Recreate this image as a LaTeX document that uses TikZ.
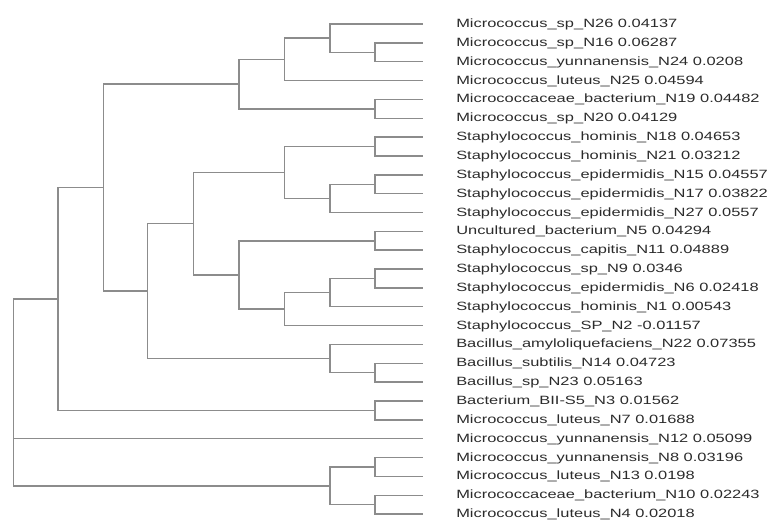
\documentclass[tikz,border=0pt]{standalone}
\usepackage{fontspec}
\setmainfont[FakeStretch=1.37]{Liberation Sans}
\definecolor{branch}{HTML}{8C8C8C}
\definecolor{labelc}{HTML}{2B2B2B}
\begin{document}
\begin{tikzpicture}[x=0.75pt,y=-0.75pt,
  edge/.style={draw=branch,line width=1.1pt,line cap=rect},
  leaflabel/.style={anchor=mid west,inner sep=0pt,text=labelc,font=\fontsize{9pt}{10pt}\selectfont}]
\useasboundingbox (0,0) rectangle (769,519);
% leaf tips and labels
\foreach \i/\t in {0/Micrococcus\_sp\_N26 0.04137,
 1/Micrococcus\_sp\_N16 0.06287,
 2/Micrococcus\_yunnanensis\_N24 0.0208,
 3/Micrococcus\_luteus\_N25 0.04594,
 4/Micrococcaceae\_bacterium\_N19 0.04482,
 5/Micrococcus\_sp\_N20 0.04129,
 6/Staphylococcus\_hominis\_N18 0.04653,
 7/Staphylococcus\_hominis\_N21 0.03212,
 8/Staphylococcus\_epidermidis\_N15 0.04557,
 9/Staphylococcus\_epidermidis\_N17 0.03822,
 10/Staphylococcus\_epidermidis\_N27 0.0557,
 11/Uncultured\_bacterium\_N5 0.04294,
 12/Staphylococcus\_capitis\_N11 0.04889,
 13/Staphylococcus\_sp\_N9 0.0346,
 14/Staphylococcus\_epidermidis\_N6 0.02418,
 15/Staphylococcus\_hominis\_N1 0.00543,
 16/Staphylococcus\_SP\_N2 -0.01157,
 17/Bacillus\_amyloliquefaciens\_N22 0.07355,
 18/Bacillus\_subtilis\_N14 0.04723,
 19/Bacillus\_sp\_N23 0.05163,
 20/Bacterium\_BII-S5\_N3 0.01562,
 21/Micrococcus\_luteus\_N7 0.01688,
 22/Micrococcus\_yunnanensis\_N12 0.05099,
 23/Micrococcus\_yunnanensis\_N8 0.03196,
 24/Micrococcus\_luteus\_N13 0.0198,
 25/Micrococcaceae\_bacterium\_N10 0.02243,
 26/Micrococcus\_luteus\_N4 0.02018}{
  \coordinate (L\i) at (422,{24+\i*18.85});
  \node[leaflabel] (T\i) at (456,{24+\i*18.85}) {\t};
}
% internal nodes
\coordinate (a) at (375,52.28);
\coordinate (b) at (330,38.14);
\coordinate (c) at (284.5,59.34);
\coordinate (d) at (375,108.83);
\coordinate (e) at (239,84.08);
\coordinate (l) at (375,146.53);
\coordinate (n) at (375,184.23);
\coordinate (m) at (330,198.36);
\coordinate (j) at (284.5,172.44);
\coordinate (o) at (375,240.78);
\coordinate (r) at (375,278.48);
\coordinate (q) at (330,292.61);
\coordinate (p) at (284.5,309.11);
\coordinate (k) at (239,274.94);
\coordinate (h) at (193.5,223.69);
\coordinate (s) at (375,372.73);
\coordinate (i) at (330,358.59);
\coordinate (g) at (147.7,291.14);
\coordinate (f) at (103.5,187.61);
\coordinate (u) at (375,410.43);
\coordinate (t) at (58,299.02);
\coordinate (w) at (375,466.98);
\coordinate (x) at (375,504.68);
\coordinate (v) at (330,485.83);
\coordinate (root) at (13.3,392.43);
% branches
\path[edge] (a) |- (L1) (a) |- (L2)
  (b) |- (L0) (b) |- (a)
  (c) |- (b) (c) |- (L3)
  (d) |- (L4) (d) |- (L5)
  (e) |- (c) (e) |- (d)
  (l) |- (L6) (l) |- (L7)
  (n) |- (L8) (n) |- (L9)
  (m) |- (n) (m) |- (L10)
  (j) |- (l) (j) |- (m)
  (o) |- (L11) (o) |- (L12)
  (r) |- (L13) (r) |- (L14)
  (q) |- (r) (q) |- (L15)
  (p) |- (q) (p) |- (L16)
  (k) |- (o) (k) |- (p)
  (h) |- (j) (h) |- (k)
  (s) |- (L18) (s) |- (L19)
  (i) |- (L17) (i) |- (s)
  (g) |- (h) (g) |- (i)
  (f) |- (e) (f) |- (g)
  (u) |- (L20) (u) |- (L21)
  (t) |- (f) (t) |- (u)
  (w) |- (L23) (w) |- (L24)
  (x) |- (L25) (x) |- (L26)
  (v) |- (w) (v) |- (x)
  (root) |- (t) (root) |- (L22) (root) |- (v);
\end{tikzpicture}
\end{document}
